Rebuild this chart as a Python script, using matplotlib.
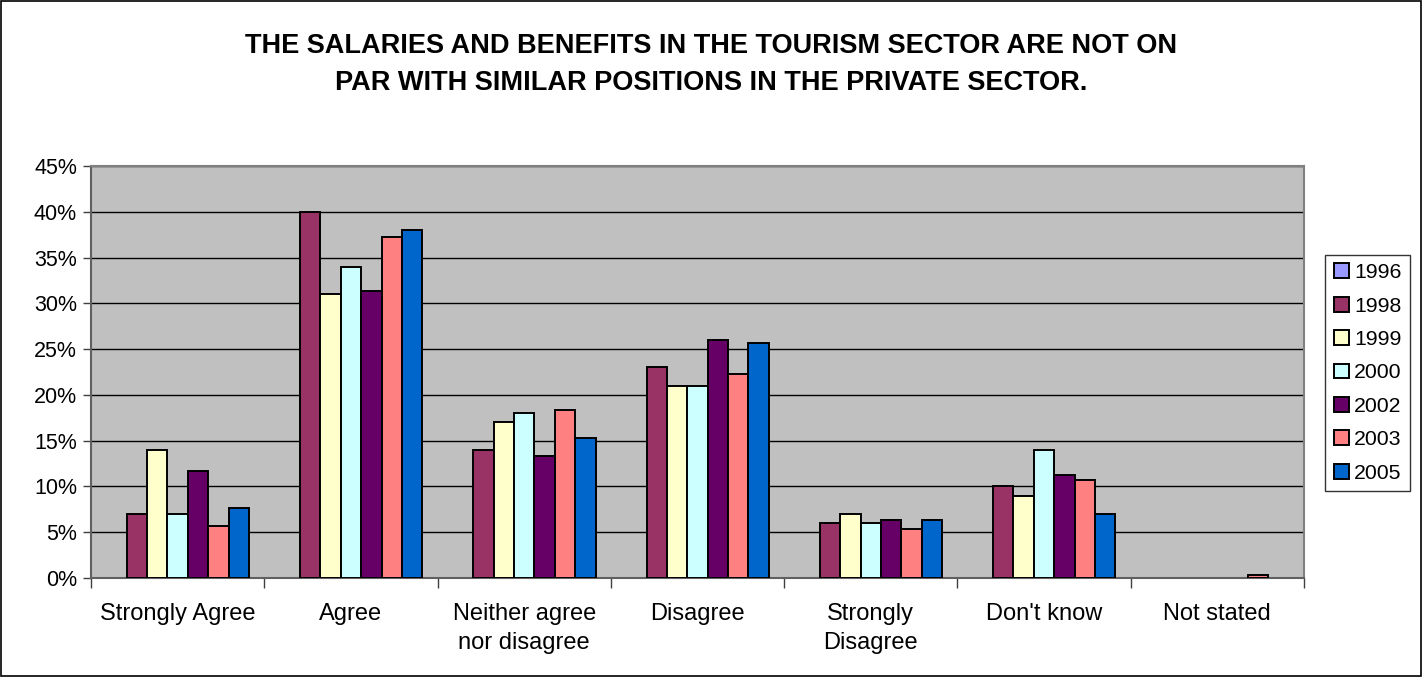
import matplotlib.pyplot as plt
import matplotlib.patches as mpatches
import numpy as np

plt.rcParams['font.family'] = ['Liberation Sans', 'DejaVu Sans']

categories = ['Strongly Agree', 'Agree', 'Neither agree\nnor disagree', 'Disagree',
              'Strongly\nDisagree', "Don't know", 'Not stated']
years = ['1996', '1998', '1999', '2000', '2002', '2003', '2005']

# percentages per year, one value per category
v1996 = [0, 0, 0, 0, 0, 0, 0]
v1998 = [7.0, 40.0, 14.0, 23.0, 6.0, 10.0, 0]
v1999 = [14.0, 31.0, 17.0, 21.0, 7.0, 9.0, 0]
v2000 = [7.0, 34.0, 18.0, 21.0, 6.0, 14.0, 0]
v2002 = [11.7, 31.3, 13.3, 26.0, 6.3, 11.3, 0]
v2003 = [5.7, 37.3, 18.3, 22.3, 5.3, 10.7, 0.3]
v2005 = [7.7, 38.0, 15.3, 25.7, 6.3, 7.0, 0]

series = [v1996, v1998, v1999, v2000, v2002, v2003, v2005]
colors = ['#9999FF', '#993366', '#FFFFCC', '#CCFFFF', '#660066', '#FF8080', '#0066CC']

fig = plt.figure(figsize=(14.22, 6.77), dpi=100)
ax = fig.add_axes([0.064, 0.1462, 0.853, 0.6086])
ax.set_facecolor('#C0C0C0')

x = np.arange(len(categories))
w = 1 / 8.5
for j, (vals, col) in enumerate(zip(series, colors)):
    # empty bars get no outline so they don't draw over the axis
    lws = [1.4 if v > 0 else 0 for v in vals]
    ax.bar(x + (j - 3) * w, vals, width=w, color=col, edgecolor='black',
           linewidth=lws, zorder=3)

ax.set_xlim(-0.5, 6.5)
ax.set_ylim(0, 45)
ax.set_yticks(np.arange(0, 46, 5))
ax.set_yticklabels([f'{v}%' for v in range(0, 46, 5)], fontsize=15.5)
ax.yaxis.grid(True, color='black', linewidth=1.0, zorder=1)

ax.set_xticks(x)
ax.set_xticklabels(categories, fontsize=17, linespacing=1.42)
ax.tick_params(axis='x', length=0, pad=18)
ax.set_xticks(np.arange(-0.5, 7.0, 1.0), minor=True)
ax.tick_params(axis='x', which='minor', length=7, width=1, color='#404040', direction='out')
ax.tick_params(axis='y', length=6, width=1, color='#404040', direction='out', pad=4)

for side in ['top', 'right']:
    ax.spines[side].set_color('#808080')
    ax.spines[side].set_linewidth(1.5)
ax.spines['left'].set_color('#606060')
ax.spines['bottom'].set_color('#606060')
ax.spines['left'].set_linewidth(1.5)
ax.spines['bottom'].set_linewidth(1.5)

fig.text(0.5, 0.905, 'THE SALARIES AND BENEFITS IN THE TOURISM SECTOR ARE NOT ON\n'
         'PAR WITH SIMILAR POSITIONS IN THE PRIVATE SECTOR.',
         ha='center', va='center', fontsize=19.5, fontweight='bold', linespacing=1.57)

handles = [mpatches.Patch(facecolor=c, edgecolor='black', linewidth=1.4, label=y)
           for c, y in zip(colors, years)]
leg = fig.legend(handles=handles, loc='upper left', bbox_to_anchor=(0.932, 0.624),
                 fontsize=15.3, frameon=True, fancybox=False, edgecolor='black',
                 handlelength=0.7, handleheight=0.7, handletextpad=0.25,
                 labelspacing=0.68, borderpad=0.4, borderaxespad=0)
leg.get_frame().set_linewidth(1.0)

fig.patches.append(mpatches.Rectangle((0.001, 0.002), 0.998, 0.996, transform=fig.transFigure,
                                      fill=False, edgecolor='black', linewidth=1.2))

fig.savefig('out.png', dpi=100)
